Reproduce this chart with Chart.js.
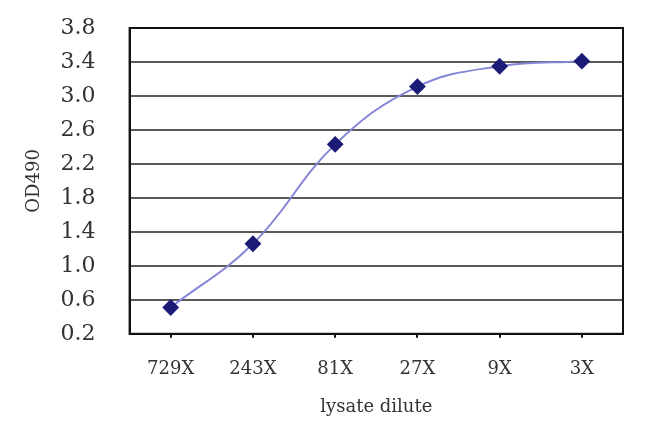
<!DOCTYPE html>
<html>
<head>
    <meta charset="UTF-8">
    <title>OD490 vs lysate dilute</title>
    <script src="https://cdn.jsdelivr.net/npm/chart.js"></script>
    <style>
        html, body { margin: 0; padding: 0; background: #fff; }
        .chart-container { width: 650px; height: 433px; }
    </style>
</head>
<body>
    <div class="chart-container">
        <canvas id="odChart"></canvas>
    </div>

    <script>
        // data
        const dilutions = ['729X', '243X', '81X', '27X', '9X', '3X'];
        const od490 = [0.51, 1.26, 2.43, 3.11, 3.35, 3.41];
        const yTicks = [0.2, 0.6, 1.0, 1.4, 1.8, 2.2, 2.6, 3.0, 3.4, 3.8];

        const serif = '"DejaVu Serif", "Liberation Serif", serif';

        // black frame round the plot area
        const frame = {
            id: 'frame',
            afterDraw(chart) {
                const a = chart.chartArea;
                const ctx = chart.ctx;
                ctx.save();
                ctx.strokeStyle = '#111';
                ctx.lineWidth = 2;
                ctx.strokeRect(a.left, a.top, a.right - a.left, a.bottom - a.top);
                ctx.restore();
            }
        };

        new Chart(document.getElementById('odChart').getContext('2d'), {
            type: 'line',
            data: {
                labels: dilutions,
                datasets: [{
                    data: od490,
                    borderColor: '#8585d8',
                    borderWidth: 2,
                    tension: 0.4,
                    fill: false,
                    pointStyle: 'rectRot',
                    pointRadius: 7,
                    pointBackgroundColor: '#1c1c78',
                    pointBorderColor: '#1c1c78'
                }]
            },
            options: {
                responsive: true,
                maintainAspectRatio: false,
                animation: false,
                layout: { padding: { top: 28, right: 27, left: 24, bottom: 15 } },
                plugins: {
                    legend: { display: false },
                    tooltip: { enabled: false }
                },
                scales: {
                    x: {
                        offset: true,
                        grid: { drawOnChartArea: false, drawTicks: true, tickLength: 4, color: '#111', lineWidth: 2 },
                        border: { color: '#111', width: 2 },
                        ticks: { color: '#333', padding: 21, font: { family: serif, size: 18 } },
                        title: { display: true, text: 'lysate dilute', color: '#333', padding: { top: -5, bottom: 0 }, font: { family: serif, size: 18 } }
                    },
                    y: {
                        min: 0.2,
                        max: 3.8,
                        afterBuildTicks(axis) { axis.ticks = yTicks.map(v => ({ value: v })); },
                        grid: { color: '#5a5a5a', lineWidth: 2, drawTicks: true, tickLength: 30, tickColor: 'rgba(0,0,0,0)' },
                        border: { color: '#111', width: 2 },
                        ticks: { color: '#333', padding: 4, callback: v => v.toFixed(1), font: { family: serif, size: 22 } },
                        title: { display: true, text: 'OD490', color: '#333', padding: { top: 0, bottom: 11 }, font: { family: serif, size: 18 } }
                    }
                }
            },
            plugins: [frame]
        });
    </script>
</body>
</html>
